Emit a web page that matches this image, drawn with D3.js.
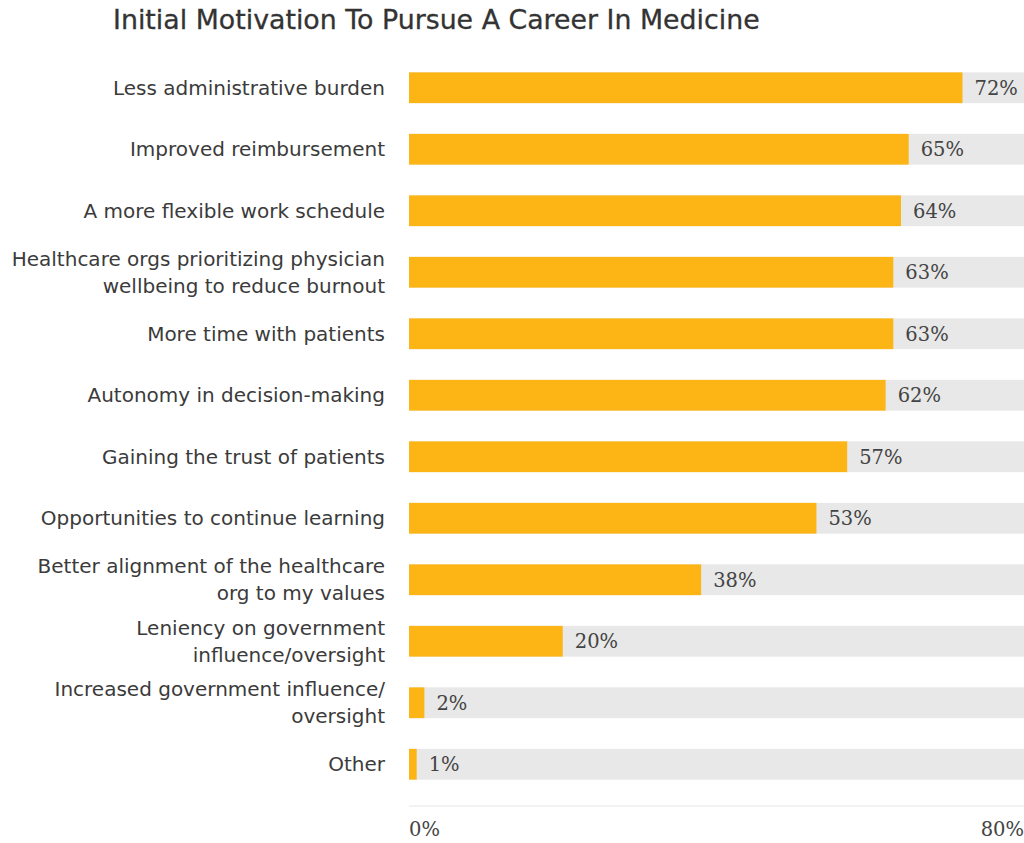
<!DOCTYPE html>
<html>
<head>
<meta charset="utf-8">
<script src="https://cdn.jsdelivr.net/npm/d3@7"></script>
<style>
  body { margin: 0; background: #fff; }
  .label { font-family: "DejaVu Sans", sans-serif; font-size: 20px; fill: #3b3b3b; }
  .value { font-family: "DejaVu Serif", serif; font-size: 19.5px; fill: #444; }
  .tick-label { font-family: "DejaVu Serif", serif; font-size: 19.5px; fill: #444; }
  .title { font-family: "DejaVu Sans", sans-serif; font-size: 26.8px; fill: #333; stroke: #333; stroke-width: 0.3px; }
</style>
</head>
<body>
<div id="chart"></div>
<script>
// data
var categories = [
  ["Less administrative burden"],
  ["Improved reimbursement"],
  ["A more flexible work schedule"],
  ["Healthcare orgs prioritizing physician", "wellbeing to reduce burnout"],
  ["More time with patients"],
  ["Autonomy in decision-making"],
  ["Gaining the trust of patients"],
  ["Opportunities to continue learning"],
  ["Better alignment of the healthcare", "org to my values"],
  ["Leniency on government", "influence/oversight"],
  ["Increased government influence/", "oversight"],
  ["Other"]
];
var values = [72, 65, 64, 63, 63, 62, 57, 53, 38, 20, 2, 1];
var axisTicks = [0, 80];

var width = 1024, height = 843;
var margin = {top: 57, right: 0, bottom: 48, left: 409};

var svg = d3.select("#chart").append("svg")
  .attr("width", width)
  .attr("height", height);

var xScale = d3.scaleLinear()
  .domain([0, 80])
  .range([margin.left, width - margin.right]);

var yScale = d3.scaleBand()
  .domain(d3.range(categories.length))
  .range([margin.top, 795])
  .paddingInner(0.5)
  .paddingOuter(0.25);

svg.append("text")
  .attr("class", "title")
  .attr("x", 113)
  .attr("y", 29)
  .text("Initial Motivation To Pursue A Career In Medicine");

// background tracks
svg.selectAll(".track")
  .data(values)
  .enter().append("rect")
  .attr("class", "track")
  .attr("x", xScale(0))
  .attr("y", function(d, i) { return yScale(i); })
  .attr("width", xScale(80) - xScale(0))
  .attr("height", yScale.bandwidth())
  .attr("fill", "#e8e8e8");

// bars
svg.selectAll(".bar")
  .data(values)
  .enter().append("rect")
  .attr("class", "bar")
  .attr("x", xScale(0))
  .attr("y", function(d, i) { return yScale(i); })
  .attr("width", function(d) { return xScale(d) - xScale(0); })
  .attr("height", yScale.bandwidth())
  .attr("fill", "#fdb515");

// value labels
svg.selectAll(".value")
  .data(values)
  .enter().append("text")
  .attr("class", "value")
  .attr("x", function(d) { return xScale(d) + 12; })
  .attr("y", function(d, i) { return yScale(i) + yScale.bandwidth() / 2; })
  .attr("dy", "0.36em")
  .text(function(d) { return d + "%"; });

// category labels
var lab = svg.selectAll(".label")
  .data(categories)
  .enter().append("text")
  .attr("class", "label")
  .attr("text-anchor", "end")
  .attr("x", 385)
  .attr("y", function(d, i) { return yScale(i) + yScale.bandwidth() / 2; });

lab.selectAll("tspan")
  .data(function(d) { return d; })
  .enter().append("tspan")
  .attr("x", 385)
  .attr("dy", function(d, j, nodes) {
    var n = nodes.length;
    if (j == 0) return ((-(n - 1) / 2) * 27 + 7) + "px";
    return "27px";
  })
  .text(function(d) { return d; });

// baseline
svg.append("line")
  .attr("x1", xScale(0))
  .attr("x2", xScale(80))
  .attr("y1", 806)
  .attr("y2", 806)
  .attr("stroke", "#e6e6e6")
  .attr("stroke-width", 1);

svg.selectAll(".tick-label")
  .data(axisTicks)
  .enter().append("text")
  .attr("class", "tick-label")
  .attr("x", function(d) { return xScale(d); })
  .attr("y", 836)
  .attr("text-anchor", function(d, i) { return i == 0 ? "start" : "end"; })
  .text(function(d) { return d + "%"; });
</script>
</body>
</html>
